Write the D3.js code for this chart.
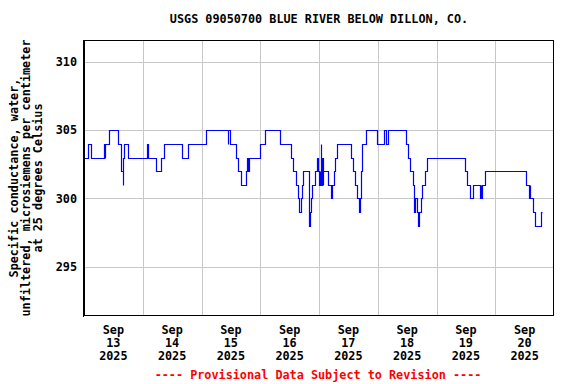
<!DOCTYPE html>
<html><head><meta charset="utf-8">
<script src="https://cdn.jsdelivr.net/npm/d3@7"></script>
<style>body{margin:0;background:#fff}svg{display:block}</style>
</head><body><svg id="c" width="576" height="384"></svg>
<script>
const title = "USGS 09050700 BLUE RIVER BELOW DILLON, CO.";
const yLabelLines = ["Specific conductance, water,", "unfiltered, microsiemens per centimeter", "at 25 degrees Celsius"];
const footer = "---- Provisional Data Subject to Revision ----";
const yTicks = [295, 300, 305, 310];
const dayLabels = ["2025-09-13","2025-09-14","2025-09-15","2025-09-16","2025-09-17","2025-09-18","2025-09-19","2025-09-20"];
const times = [
"2025-09-13 00:00","2025-09-13 01:45","2025-09-13 02:45","2025-09-13 08:15","2025-09-13 08:30","2025-09-13 08:45","2025-09-13 10:15","2025-09-13 14:00","2025-09-13 15:15","2025-09-13 15:45",
"2025-09-13 16:00","2025-09-13 16:15","2025-09-13 18:00","2025-09-14 01:45","2025-09-14 02:15","2025-09-14 05:30","2025-09-14 07:30","2025-09-14 08:30","2025-09-14 16:00","2025-09-14 18:30",
"2025-09-15 02:00","2025-09-15 10:45","2025-09-15 11:00","2025-09-15 11:30","2025-09-15 14:00","2025-09-15 15:00","2025-09-15 16:15","2025-09-15 18:00","2025-09-15 18:45","2025-09-15 19:00",
"2025-09-15 19:30","2025-09-15 23:45","2025-09-16 02:00","2025-09-16 08:00","2025-09-16 12:45","2025-09-16 13:30","2025-09-16 14:30","2025-09-16 15:15","2025-09-16 15:45","2025-09-16 16:45",
"2025-09-16 17:15","2025-09-16 17:30","2025-09-16 19:45","2025-09-16 20:00","2025-09-16 20:30","2025-09-16 20:45","2025-09-16 21:15","2025-09-16 22:15","2025-09-16 23:00","2025-09-16 23:30",
"2025-09-17 00:00","2025-09-17 00:15","2025-09-17 00:30","2025-09-17 00:45","2025-09-17 01:00","2025-09-17 01:15","2025-09-17 01:30","2025-09-17 01:45","2025-09-17 03:45","2025-09-17 04:45",
"2025-09-17 05:30","2025-09-17 06:00","2025-09-17 06:30","2025-09-17 07:15","2025-09-17 13:00","2025-09-17 14:00","2025-09-17 14:45","2025-09-17 15:30","2025-09-17 16:30","2025-09-17 16:45",
"2025-09-17 17:00","2025-09-17 17:15","2025-09-17 17:30","2025-09-17 17:45","2025-09-17 19:00","2025-09-17 23:30","2025-09-18 02:30","2025-09-18 03:15","2025-09-18 04:00","2025-09-18 11:30",
"2025-09-18 12:30","2025-09-18 13:15","2025-09-18 14:15","2025-09-18 14:45","2025-09-18 15:00","2025-09-18 15:15","2025-09-18 16:00","2025-09-18 16:30","2025-09-18 16:45","2025-09-18 17:30",
"2025-09-18 18:15","2025-09-18 19:15","2025-09-18 20:15","2025-09-19 11:30","2025-09-19 12:30","2025-09-19 13:30","2025-09-19 15:00","2025-09-19 17:45","2025-09-19 18:00","2025-09-19 18:15",
"2025-09-19 18:30","2025-09-19 20:00","2025-09-20 12:30","2025-09-20 13:45","2025-09-20 14:00","2025-09-20 14:15","2025-09-20 15:15","2025-09-20 16:15","2025-09-20 18:45","2025-09-20 19:15"];
const values = [
303,304,303,304,303,304,305,304,302,301,
303,304,303,304,303,302,303,304,303,304,
305,304,305,304,303,302,301,302,303,302,
303,304,305,304,303,302,301,300,299,300,
301,302,299,298,299,300,301,302,303,302,
301,302,301,304,301,303,301,302,301,300,
301,302,303,304,303,302,301,300,299,300,
301,302,303,304,305,304,305,304,305,304,
303,302,301,300,299,300,299,298,299,300,
301,302,303,302,301,300,301,300,301,300,
301,302,301,300,301,300,299,298,299,299];

const parse = d3.timeParse("%Y-%m-%d %H:%M");
const parseDay = d3.timeParse("%Y-%m-%d");
const data = times.map((t, i) => ({t: parse(t), v: values[i]}));

const svg = d3.select("#c");
const L = 84, R = 554, T = 40, B = 316;
const x = d3.scaleTime().domain([parse("2025-09-13 00:00"), parse("2025-09-21 00:00")]).range([L, R]);
const y = d3.scaleLinear().domain([291.4, 311.6]).range([B, T]);
const font = "'DejaVu Sans Mono', 'Liberation Mono', monospace";
const px = v => Math.round(v) + 0.5;

// grid
const days = d3.timeDay.range(parse("2025-09-14 00:00"), parse("2025-09-21 00:00"));
svg.append("g").selectAll("line").data(days).join("line")
  .attr("x1", d => px(x(d))).attr("x2", d => px(x(d)))
  .attr("y1", T).attr("y2", B).attr("stroke", "#c8c8c8").attr("stroke-width", 1);
svg.append("g").selectAll("line").data(yTicks).join("line")
  .attr("x1", L).attr("x2", R)
  .attr("y1", d => px(y(d))).attr("y2", d => px(y(d)))
  .attr("stroke", "#c8c8c8").attr("stroke-width", 1);

// data line
const line = d3.line().x(d => px(x(d.t))).y(d => px(y(d.v))).curve(d3.curveStepAfter);
svg.append("path").datum(data).attr("d", line)
  .attr("fill", "none").attr("stroke", "#0000ff").attr("stroke-width", 1.2)
  .attr("stroke-linejoin", "miter");

// frame
svg.append("rect").attr("x", L + 0.5).attr("y", T + 0.5).attr("width", R - L - 1).attr("height", B - T - 1)
  .attr("fill", "none").attr("stroke", "#000").attr("stroke-width", 1);
svg.append("line").attr("x1", L - 0.5).attr("x2", L - 0.5).attr("y1", T).attr("y2", B + 1)
  .attr("stroke", "#000").attr("stroke-width", 1);

// y tick labels
svg.append("g").selectAll("text").data(yTicks).join("text")
  .attr("x", 77).attr("y", d => y(d)).attr("dy", "0.35em")
  .attr("text-anchor", "end").attr("font-family", font).attr("font-weight", "bold")
  .attr("font-size", 11.8).attr("fill", "#000").text(d => d);

// x tick labels (centered at noon)
const fmtM = d3.timeFormat("%b"), fmtD = d3.timeFormat("%d"), fmtY = d3.timeFormat("%Y");
const xl = svg.append("g").selectAll("text").data(dayLabels.map(parseDay)).join("text")
  .attr("text-anchor", "middle").attr("font-family", font).attr("font-weight", "bold")
  .attr("font-size", 11.8).attr("fill", "#000");
xl.each(function(d) {
  const cx = x(d3.timeHour.offset(d, 12));
  const t = d3.select(this);
  [fmtM(d), fmtD(d), fmtY(d)].forEach((s, i) => {
    t.append("tspan").attr("x", cx).attr("y", 334 + i * 12.8).text(s);
  });
});

// title
svg.append("text").attr("x", 319).attr("y", 23).attr("text-anchor", "middle")
  .attr("font-family", font).attr("font-weight", "bold").attr("font-size", 11.8).text(title);

// y label
const yl = svg.append("text").attr("transform", "translate(0,178) rotate(-90)")
  .attr("text-anchor", "middle").attr("font-family", font).attr("font-weight", "bold")
  .attr("font-size", 11.8).attr("fill", "#000");
yLabelLines.forEach((s, i) => yl.append("tspan").attr("x", 0).attr("y", 18 + i * 12).text(s));

// footer
svg.append("text").attr("x", 318).attr("y", 379).attr("text-anchor", "middle")
  .attr("font-family", font).attr("font-weight", "bold").attr("font-size", 11.8)
  .attr("fill", "#ff0000").text(footer);
</script></body></html>
